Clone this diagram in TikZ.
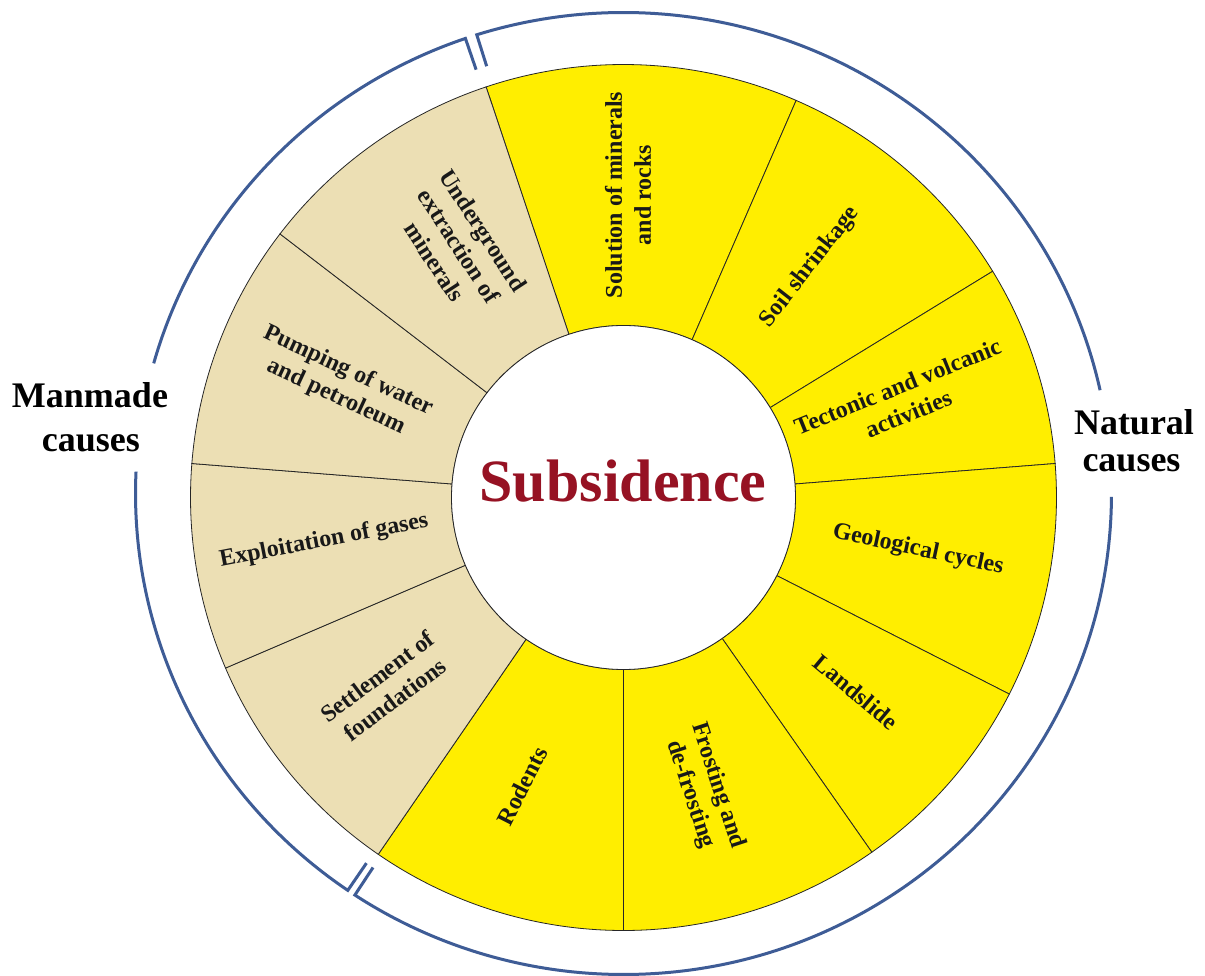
\documentclass[tikz,border=0pt]{standalone}
\usepackage{fontspec}
\setmainfont{Liberation Serif}
\definecolor{segyellow}{RGB}{255,238,0}
\definecolor{segtan}{RGB}{236,223,180}
\definecolor{arcblue}{RGB}{62,92,150}
\definecolor{subred}{RGB}{150,18,35}
\newcommand\mysector[3]{%
  \filldraw[seg, fill=#3] (#1:172) -- (#1:433)
    arc[start angle=#1, end angle=#2, radius=433] -- (#2:172)
    arc[start angle=#2, end angle=#1, radius=172] -- cycle;}
\begin{document}
\begin{tikzpicture}[x=1pt,y=1pt,
  seg/.style={draw=black!85, line width=0.8pt},
  lab/.style={font=\bfseries\fontsize{24}{29}\selectfont, align=center, text=black!90, inner sep=0pt},
  cause/.style={font=\bfseries\fontsize{36}{43}\selectfont, anchor=base, inner sep=0pt, text=black},
  bracket/.style={draw=arcblue, line width=3pt, line join=miter}
]
\useasboundingbox (-623.5,-478.5) rectangle (581.5,497.5);
\fill[white] (-623.5,-478.5) rectangle (581.5,497.5);

% natural (yellow) sectors
\mysector{66.5}{108.5}{segyellow}
\mysector{31.5}{66.5}{segyellow}
\mysector{4.5}{31.5}{segyellow}
\mysector{-27}{4.5}{segyellow}
\mysector{-55}{-27}{segyellow}
\mysector{-90}{-55}{segyellow}
\mysector{-124.5}{-90}{segyellow}
% manmade (tan) sectors
\mysector{203.2}{235.5}{segtan}
\mysector{175.5}{203.2}{segtan}
\mysector{142.5}{175.5}{segtan}
\mysector{108.5}{142.5}{segtan}

% centre
\node[circle, draw=black!85, line width=0.8pt, fill=white, minimum size=344pt, inner sep=0pt] (hub) at (0,0) {};
\node[font=\bfseries\fontsize{60}{70}\selectfont, text=subred, anchor=base] (sub) at (-0.5,-4.5) {Subsidence};

% segment labels
\node[lab, rotate=90]  (l1)  at (4.5,302.5)    {Solution of minerals\\and rocks};
\node[lab, rotate=52]  (l2)  at (186.5,230.5)  {Soil shrinkage};
\node[lab, rotate=22]  (l3)  at (279.5,97.5)   {Tectonic and volcanic\\activities};
\node[lab, rotate=-12] (l4)  at (294.5,-52.5)  {Geological cycles};
\node[lab, rotate=-40] (l5)  at (232.5,-194.5) {Landslide};
\node[lab, rotate=-72] (l6)  at (80.5,-292.5)  {Frosting and\\de-frosting};
\node[lab, rotate=63]  (l7)  at (-101.5,-288.5){Rodents};
\node[lab, rotate=37]  (l8)  at (-237.5,-190.5){Settlement of\\foundations};
\node[lab, rotate=11]  (l9)  at (-299.5,-43.5) {Exploitation of gases};
\node[lab, rotate=-25] (l10) at (-281.5,113.5) {Pumping of water\\and petroleum};
\node[lab, rotate=-57] (l11) at (-164.5,251.5) {Underground\\extraction of\\minerals};

% bracket arcs (ellipse centre (0,4), rx 488, ry 481)
\coordinate (mt) at ({455*cos(108.9)},{4+448*sin(108.9)});
\coordinate (mb) at ({455*cos(235.6)},{4+448*sin(235.6)});
\coordinate (nt) at ({455*cos(107.5)},{4+448*sin(107.5)});
\coordinate (nb) at ({455*cos(236.6)},{4+448*sin(236.6)});
\draw[bracket] (mt) -- ({488*cos(108.9)},{4+481*sin(108.9)})
  arc[start angle=108.9, end angle=164.3, x radius=488, y radius=481];
\draw[bracket] ({488*cos(177.4)},{4+481*sin(177.4)})
  arc[start angle=177.4, end angle=235.6, x radius=488, y radius=481] -- (mb);
\draw[bracket] (nt) -- ({488*cos(107.5)},{4+481*sin(107.5)})
  arc[start angle=107.5, end angle=12.4, x radius=488, y radius=481];
\draw[bracket] ({488*cos(-0.4)},{4+481*sin(-0.4)})
  arc[start angle=-0.4, end angle=-123.4, x radius=488, y radius=481] -- (nb);

% cause labels
\node[cause] (man1) at (-533.5,89.5)  {Manmade};
\node[cause] (man2) at (-532.5,45.5)  {causes};
\node[cause] (nat1) at (510.5,62.5)   {Natural};
\node[cause] (nat2) at (508,25.5)     {causes};
\end{tikzpicture}
\end{document}
